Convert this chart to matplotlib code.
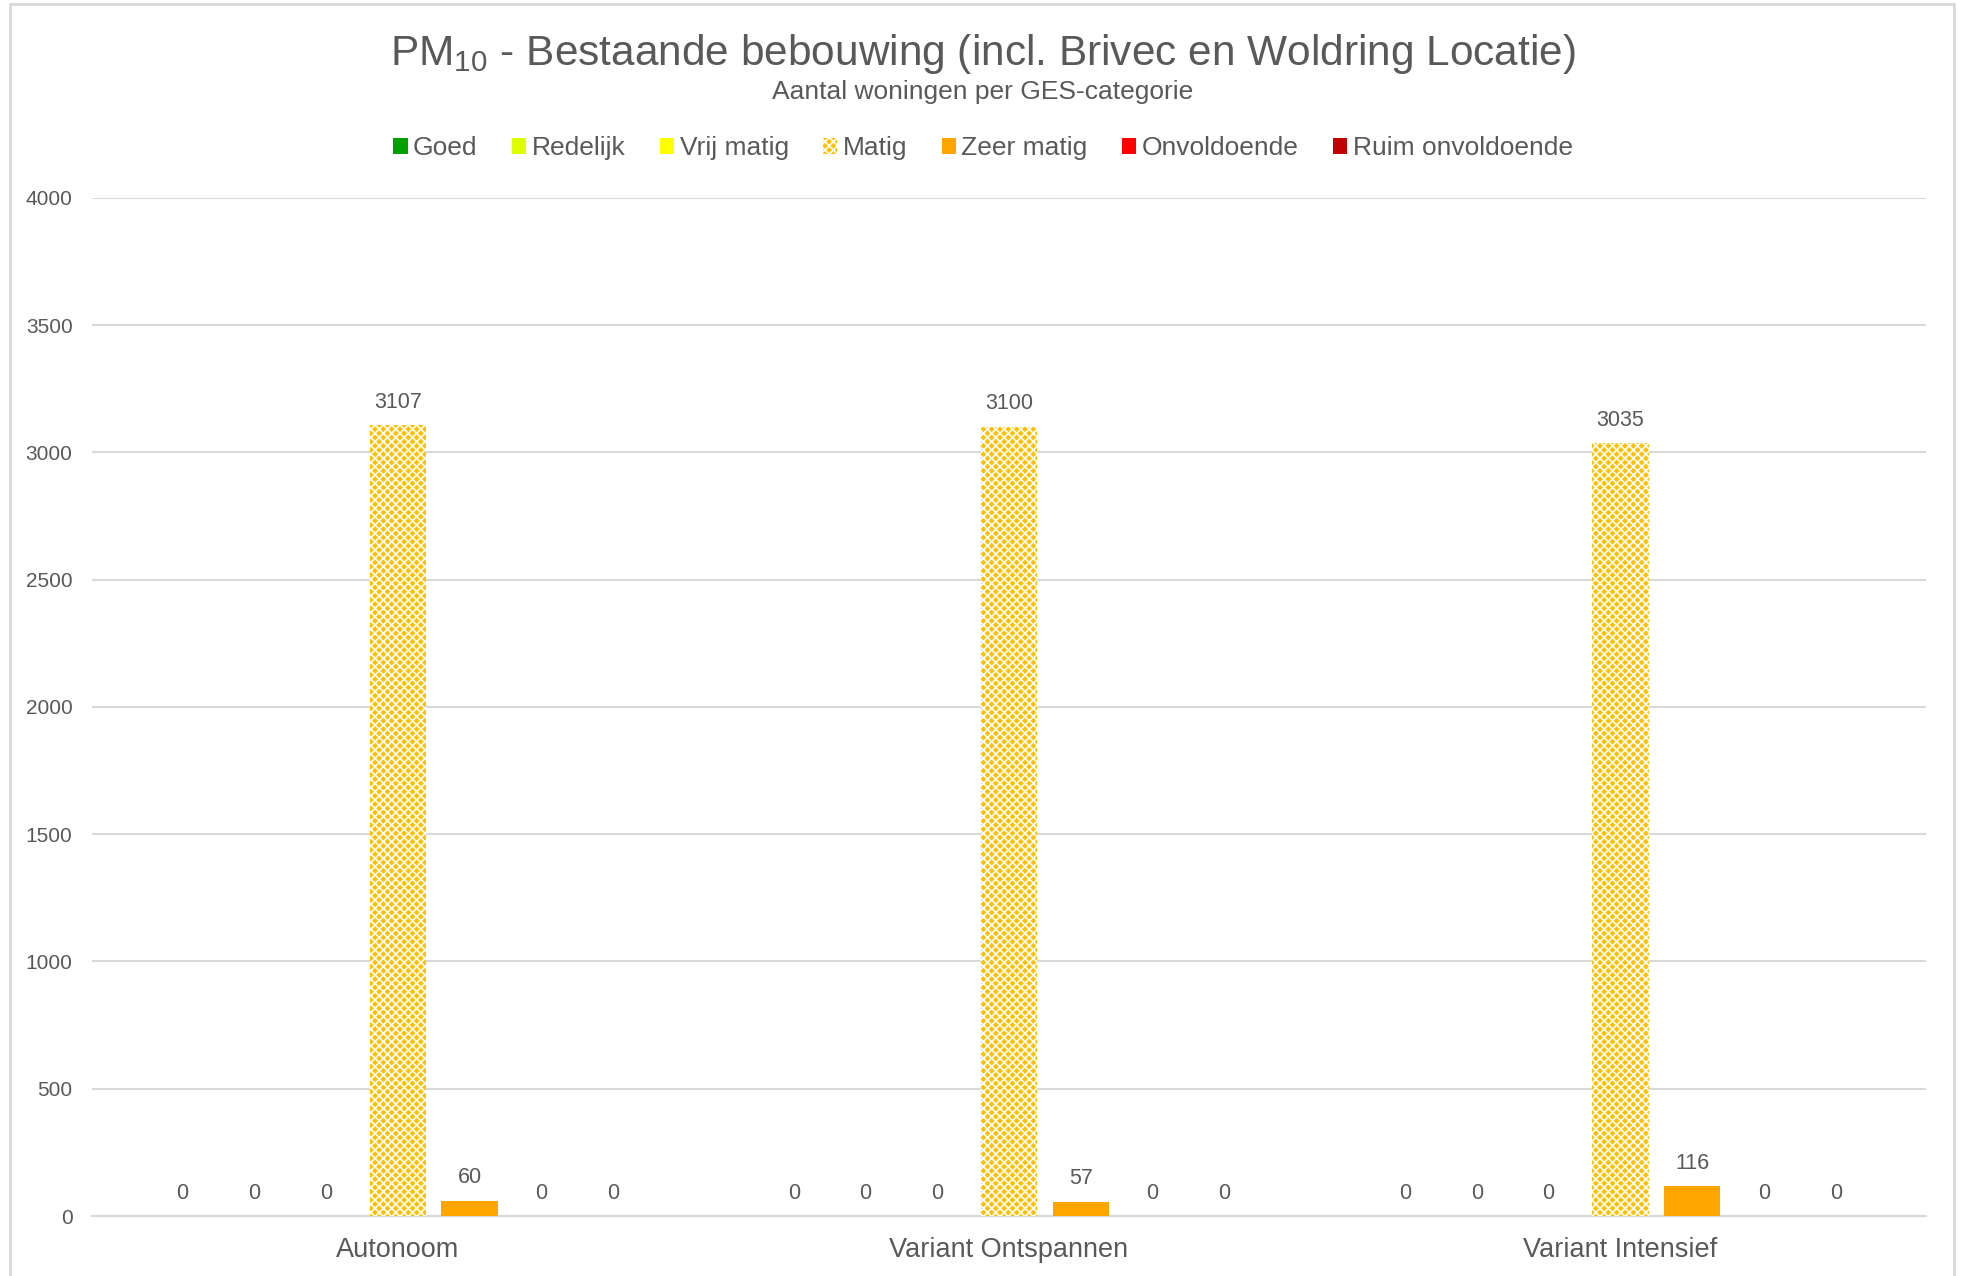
import matplotlib
matplotlib.use("Agg")
import matplotlib.pyplot as plt
import numpy as np
from matplotlib.patches import Rectangle

plt.rcParams['font.family'] = ['Liberation Sans', 'DejaVu Sans']
plt.rcParams['mathtext.fontset'] = 'custom'
plt.rcParams['mathtext.rm'] = 'Liberation Sans'
plt.rcParams['hatch.linewidth'] = 1.2

# data
scenarios = ["Autonoom", "Variant Ontspannen", "Variant Intensief"]
categories = ["Goed", "Redelijk", "Vrij matig", "Matig", "Zeer matig",
              "Onvoldoende", "Ruim onvoldoende"]
goed = [0, 0, 0]
redelijk = [0, 0, 0]
vrij_matig = [0, 0, 0]
matig = [3107, 3100, 3035]
zeer_matig = [60, 57, 116]
onvoldoende = [0, 0, 0]
ruim_onvoldoende = [0, 0, 0]
series = [goed, redelijk, vrij_matig, matig, zeer_matig, onvoldoende, ruim_onvoldoende]
colors = ["#00A000", "#DDFF00", "#FFFF00", "#FFC000", "#FFA500", "#FF0000", "#C00000"]

txt = "#595959"
grid = "#D9D9D9"

fig = plt.figure(figsize=(19.66, 12.76), dpi=100)
ax = fig.add_axes([0.0468, 0.047, 0.9329, 0.798])

x = np.arange(len(scenarios))
slot = 0.1174
width = 0.0922
for i, (vals, col) in enumerate(zip(series, colors)):
    pos = x + (i - 3) * slot
    if categories[i] == "Matig":
        bars = ax.bar(pos, vals, width, color=col, edgecolor="white",
                      linewidth=0, hatch="xxxx", label=categories[i], zorder=3)
    else:
        bars = ax.bar(pos, vals, width, color=col, linewidth=0,
                      label=categories[i], zorder=3)
    for b, v in zip(bars, vals):
        ax.annotate(str(v), (b.get_x() + b.get_width() / 2, v),
                    xytext=(0, 9), textcoords="offset points",
                    ha="center", va="bottom", fontsize=15.5, color=txt)

ax.set_xlim(-0.5, 2.5)
ax.set_ylim(0, 4000)
ax.set_yticks(np.arange(0, 4001, 500))
ax.set_xticks(x)
ax.set_xticklabels(scenarios, fontsize=19.5, color=txt)
ax.tick_params(axis="y", length=0, pad=14, labelsize=15, labelcolor=txt)
ax.tick_params(axis="x", length=0, pad=15)
ax.grid(axis="y", color=grid, linewidth=1.5, zorder=0)
for s in ["top", "right", "left"]:
    ax.spines[s].set_visible(False)
ax.spines["bottom"].set_color(grid)
ax.spines["bottom"].set_linewidth(1.5)

fig.text(0.5, 0.958, r"PM$_{\mathrm{10}}$ - Bestaande bebouwing (incl. Brivec en Woldring Locatie)",
         ha="center", va="center", fontsize=30.5, color=txt)
fig.text(0.5, 0.928, "Aantal woningen per GES-categorie",
         ha="center", va="center", fontsize=19, color=txt)

leg = fig.legend(loc="center", bbox_to_anchor=(0.5, 0.884), ncol=7, frameon=False,
                 fontsize=19, handlelength=0.55, handleheight=0.55,
                 handletextpad=0.2, columnspacing=1.3, labelcolor=txt)

fig.patches.append(Rectangle((0.005, -0.1), 0.989, 1.097, transform=fig.transFigure,
                             fill=False, edgecolor=grid, linewidth=2))

fig.savefig("out.png", dpi=100)
